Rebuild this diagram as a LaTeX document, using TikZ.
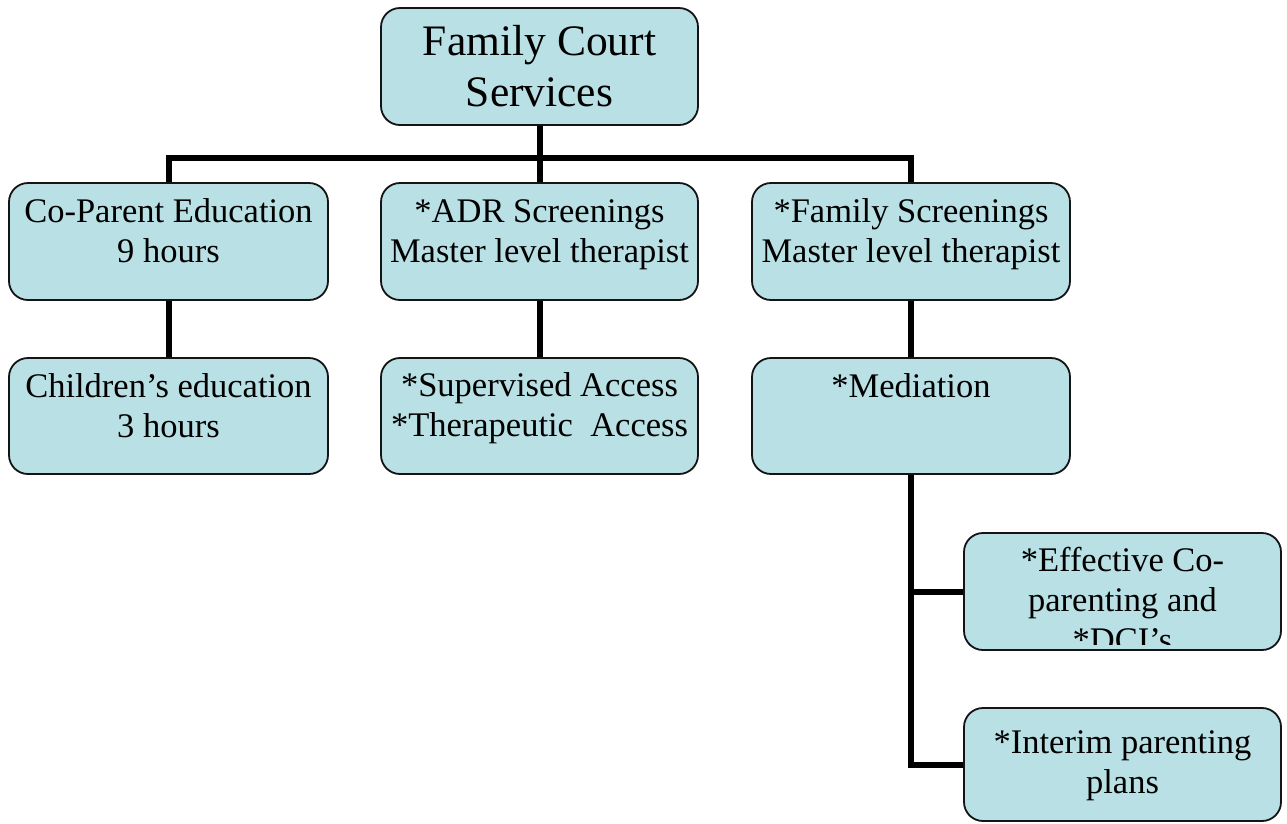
\documentclass[tikz,border=0pt]{standalone}
\usepackage{fontspec}
\setmainfont{Liberation Serif}
\usetikzlibrary{backgrounds}
\definecolor{boxfill}{RGB}{185,224,228}
\definecolor{boxline}{RGB}{20,20,20}
\tikzset{
  orgbox/.style={draw=boxline, line width=1.8pt, fill=boxfill, rounded corners=19pt, inner sep=0pt, shape=rectangle},
  conn/.style={draw=black, line width=6pt},
  txt/.style={inner sep=0pt, anchor=north, align=center, font=\fontsize{34.5}{40}\selectfont},
  bigtxt/.style={inner sep=0pt, anchor=north, align=center, font=\fontsize{43.5}{51}\selectfont}
}
\newcommand\rl{\rule{0pt}{30pt}}
\newcommand\rlb{\rule{0pt}{38pt}}
\begin{document}
\begin{tikzpicture}[x=1pt,y=-1pt]
\useasboundingbox (0,0) rectangle (1287,823);
% boxes
\node[orgbox, minimum width=317pt, minimum height=117pt] (top) at (539.5,66.5) {};
\node[orgbox, minimum width=319pt, minimum height=117pt] (a1) at (168.5,241.5) {};
\node[orgbox, minimum width=317pt, minimum height=117pt] (b1) at (539.5,241.5) {};
\node[orgbox, minimum width=318pt, minimum height=117pt] (c1) at (911,241.5) {};
\node[orgbox, minimum width=319pt, minimum height=116pt] (a2) at (168.5,416) {};
\node[orgbox, minimum width=317pt, minimum height=116pt] (b2) at (539.5,416) {};
\node[orgbox, minimum width=318pt, minimum height=116pt] (c2) at (911,416) {};
\node[orgbox, minimum width=317pt, minimum height=117pt] (d1) at (1122.5,591.5) {};
\node[orgbox, minimum width=317pt, minimum height=113pt] (d2) at (1122.5,764.5) {};
% connectors
\coordinate (busy) at (0,158);
\begin{scope}[on background layer]
\draw[conn] (top.south) -- (b1.north);
\draw[conn] (a1.north) -- (a1.north |- busy) -- (c1.north |- busy) -- (c1.north);
\draw[conn] (a1.south) -- (a2.north);
\draw[conn] (b1.south) -- (b2.north);
\draw[conn] (c1.south) -- (c2.north);
\draw[conn] (c2.south) -- (c2.south |- d2.west) -- (d2.west);
\draw[conn] (c2.south |- d1.west) -- (d1.west);
\end{scope}
% texts
\node[bigtxt] (ttop) at (539.5,55-38) {\rlb Family Court\\Services};
\node[txt] (ta1) at (168.5,222-30) {\rl Co-Parent Education\\9 hours};
\node[txt] (tb1) at (539.5,222-30) {\rl *ADR Screenings\\Master level therapist};
\node[txt] (tc1) at (911,222-30) {\rl *Family Screenings\\Master level therapist};
\node[txt] (ta2) at (168.5,397-30) {\rl Children’s education\\3 hours};
\node[txt] (tb2) at (539.5,396-30) {\rl *Supervised Access\\*Therapeutic\ \ Access};
\node[txt] (tc2) at (911,397-30) {\rl *Mediation};
\begin{scope}
\clip (964,533) rectangle (1281,644);
\node[txt] (td1) at (1122.5,571-30) {\rl *Effective Co-\\parenting and\\*DCI’s};
\end{scope}
\node[txt] (td2) at (1122.5,753-30) {\rl *Interim parenting\\plans};
\end{tikzpicture}
\end{document}
